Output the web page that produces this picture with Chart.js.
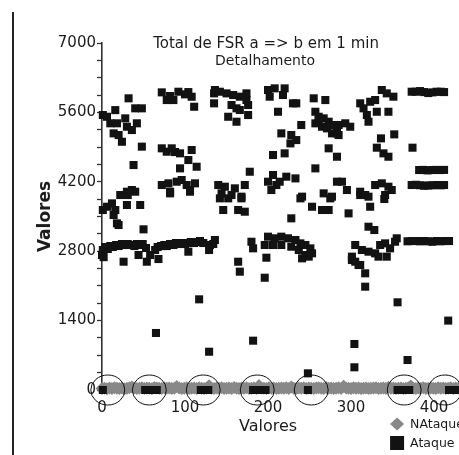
<!DOCTYPE html>
<html>
<head>
<meta charset="utf-8">
<title>Total de FSR a => b em 1 min</title>
<script src="https://cdn.jsdelivr.net/npm/chart.js@4"></script>
<style>
  html, body { margin: 0; padding: 0; background: #fff; }
  canvas { display: block; }
</style>
</head>
<body>
<canvas id="chart" width="459" height="455"></canvas>
<script>
// Chart text
const titleLines = ['Total de FSR a => b em 1 min', 'Detalhamento'];
const axisTitle = 'Valores';
const seriesNames = ['NAtaque', 'Ataque'];

// Axis ranges and ticks (the plot runs a little past the last labelled tick)
const xRange = [0, 430];
const yRange = [0, 7000];
const xTickValues = [0, 100, 200, 300, 400];
const yTickValues = [0, 1400, 2800, 4200, 5600, 7000];
const yMinorStep = 350;

// NAtaque: one reading every 3 samples, starting at sample 0
const nAtaqueStep = 3;
const nAtaqueValues = [
  30, 35, 25, 40, 30, 45, 35, 30, 40, 25, 35, 45,
  60, 40, 30, 35, 45, 30, 40, 35, 25, 50, 40, 35,
  30, 45, 35, 40, 30, 35, 70, 40, 30, 35, 45, 30,
  35, 40, 30, 45, 35, 30, 40, 85, 35, 30, 40, 35,
  45, 30, 35, 40, 30, 50, 35, 30, 40, 35, 45, 30,
  35, 40, 30, 90, 40, 35, 30, 45, 35, 40, 30, 35,
  40, 35, 45, 30, 60, 35, 30, 40, 35, 45, 30, 40,
  35, 30, 40, 45, 35, 30, 50, 35, 40, 30, 35, 45,
  30, 75, 40, 35, 30, 45, 35, 40, 30, 35, 40, 30,
  35, 40, 45, 30, 35, 40, 30, 55, 35, 40, 30, 35,
  40, 30, 35, 45, 80, 35, 30, 40, 35, 45, 30, 35,
  40, 35, 30, 45, 35, 40, 30, 35, 45, 30, 40, 35
];

// Ataque: [sample, value]
const ataquePoints = [
  [0,2723],[1,2824],[1,3631],[1,5547],[1,0],[2,2680],[4,2884],[6,5512],[6,3697],[7,2844],
  [10,2904],[10,5380],[12,3765],[13,2884],[14,5177],[14,3530],[16,5646],[16,3631],[17,2925],[18,5380],
  [18,3362],[20,2904],[20,5143],[20,3328],[22,3933],[24,5008],[24,2945],[26,2588],[28,5480],[28,2925],
  [30,5311],[30,4000],[30,3732],[31,3933],[31,2945],[32,5884],[35,2925],[36,5244],[36,4034],[38,4538],
  [39,2904],[40,5682],[40,4000],[42,5380],[42,2945],[44,2723],[46,3732],[46,2925],[48,5682],[48,4909],
  [49,2945],[50,3241],[52,0],[53,2864],[54,2588],[57,0],
  [58,2723],[62,0],[64,2824],[65,1150],[66,0],[67,2884],[68,2642],[71,2904],[72,6004],[72,4875],
  [72,4135],[75,2925],[78,5849],[78,4807],[78,2904],[80,4169],[82,5930],[82,4000],[82,3967],[82,2945],
  [84,4875],[86,5849],[86,2925],[88,4800],[89,2965],[90,4202],[92,6017],[93,2945],[94,4774],[94,4471],
  [96,4236],[96,2965],[100,5964],[100,2945],[102,4135],[104,6010],[104,4639],[104,2965],[104,2790],[106,4034],
  [106,4000],[107,2985],[108,5916],[108,4841],[111,5714],[111,2965],[112,4169],[114,4504],[114,2985],[117,1829],
  [118,3005],[119,0],[122,2965],[124,0],[128,0],[129,2824],[129,772],[130,2925],[134,2945],[135,5984],
  [135,5783],[136,3026],[136,6051],
  [140,4135],[142,6017],[142,3866],[144,3967],[146,3631],[148,4101],[150,5984],[152,5512],[152,3866],[156,5749],
  [156,3933],[158,5950],[160,4068],[162,5682],[162,5412],[164,3631],[164,2588],[166,5917],[166,5648],[166,2387],
  [168,3900],[168,3866],[172,4135],[172,3597],[174,5984],[174,5850],[176,5749],[176,5547],[178,4403],[180,2991],
  [182,2858],[182,995],[182,0],[187,0],[192,0],[196,2925],[196,2265],[197,0],[198,2669],[200,6051],
  [200,4202],[200,3093],[202,5917],[204,4034],[206,4740],[206,4337],[206,2925],[208,6085],[208,3060],[210,4135],
  [212,5613],[214,4202],[216,5177],[216,3093],[216,2925],[218,5951],[220,6085],[220,4774],[222,4303],[224,3060],
  [227,4975],[228,5143],[228,3463],[228,2891],[230,5783],[233,4269],[233,3026],[234,5783],[234,5042],[237,2824],
  [239,2958],[239,3866],[240,5345],[241,3900],[241,2656],[245,2925],[245,2723],[248,336],[248,0],[249,2690],
  [251,2857],[253,2757],[253,3697],[255,5884],[257,5613],[257,5379],[257,4471],[261,5512],[261,5446],[265,5311],
  [265,3631],[267,5480],[267,3967],[269,5849],[271,5278],[273,5412],[273,4875],[273,3631],[275,3866],[277,5177],
  [277,3900],[279,5345],[283,5244],[283,4706],[283,4202],[283,5177],[285,5143],[285,5345],[289,4202],[293,5380],
  [295,4034],[297,3563],[299,5311],
  [301,2622],[301,2690],[304,928],[304,458],[305,2925],[305,2588],[309,2521],[311,5783],[311,4000],[311,3933],
  [311,2522],[313,2824],[315,5682],[317,3933],[317,2354],[317,2084],[319,5547],[321,5412],[321,3900],[321,3294],
  [321,2790],[323,5815],[323,3697],[328,3227],[329,5849],[329,4135],[329,2757],[331,5613],[331,4888],[333,2690],
  [335,2925],[336,5076],[337,6051],[337,4169],[339,4774],[340,3853],[341,3933],[341,2958],[343,5984],[343,2690],
  [345,5613],[345,4706],[345,4101],[347,2858],[349,4034],[351,5917],[352,5157],[353,2991],[355,3060],[356,1769],
  [356,0],[361,0],[366,0],[368,605],[368,3000],[370,0],[373,6017],[373,4135],[373,3005],[374,4888],
  [378,6017],[378,4140],[378,3005],[382,4437],[383,6030],[383,4130],[383,3000],[387,4440],[388,6010],[388,4120],
  [388,3005],[392,4430],[393,5990],[393,4125],[393,3000],[397,4437],[398,6004],[398,4130],[398,2990],[402,4440],
  [403,6017],[403,4135],[403,3005],[407,4437],[408,6017],[408,4130],[408,3000],[412,6010],[412,4440],[412,4135],
  [413,3005],[417,1400],[418,3005],[418,0],[423,0],[428,0]
];

// Samples whose zero readings are ringed
const highlightedX = [7, 57, 122, 187, 252, 364, 413];

const FONT = 'DejaVu Sans';
const INK = '#1c1c1c';
const GREY = '#888888';

// Centre of the labelled part of the x axis
const labelledCentre = chart =>
  chart.scales.x.getPixelForValue((xTickValues[0] + xTickValues[xTickValues.length - 1]) / 2);

// Left frame rule
const frameRule = {
  id: 'frameRule',
  beforeDraw(chart) {
    const ctx = chart.ctx;
    ctx.save();
    ctx.strokeStyle = '#222';
    ctx.lineWidth = 2;
    ctx.beginPath();
    ctx.moveTo(13, 12);
    ctx.lineTo(13, chart.height);
    ctx.stroke();
    ctx.restore();
  }
};

// Two-line heading inside the top of the plot, and the x axis title
const texts = {
  id: 'texts',
  afterDraw(chart) {
    const { ctx, chartArea } = chart;
    const cx = labelledCentre(chart);
    ctx.save();
    ctx.fillStyle = INK;
    ctx.textAlign = 'center';
    ctx.textBaseline = 'middle';
    ctx.font = '15px "' + FONT + '"';
    ctx.fillText(titleLines[0], cx - 2, chartArea.top + 1);
    ctx.font = '14px "' + FONT + '"';
    ctx.fillText(titleLines[1], cx - 3, chartArea.top + 18);
    ctx.font = '16px "' + FONT + '"';
    ctx.fillText(axisTitle, cx, chartArea.bottom + 37);
    ctx.restore();
  }
};

// Ellipses around the zero readings
const zeroRings = {
  id: 'zeroRings',
  afterDatasetsDraw(chart) {
    const { ctx, scales } = chart;
    const y0 = scales.y.getPixelForValue(0);
    ctx.save();
    ctx.strokeStyle = '#111';
    ctx.lineWidth = 1;
    highlightedX.forEach(v => {
      ctx.beginPath();
      ctx.ellipse(scales.x.getPixelForValue(v), y0, 17, 15, 0, 0, Math.PI * 2);
      ctx.stroke();
    });
    ctx.restore();
  }
};

// Stacked key at the bottom right
const cornerKey = {
  id: 'cornerKey',
  afterDraw(chart) {
    const { ctx, chartArea } = chart;
    const mx = chart.scales.x.getPixelForValue(xTickValues[xTickValues.length - 1]) - 37;
    const rows = [chart.data.datasets[1], chart.data.datasets[0]];
    ctx.save();
    ctx.font = '12.5px "' + FONT + '"';
    ctx.textBaseline = 'middle';
    ctx.textAlign = 'left';
    rows.forEach((ds, i) => {
      const my = chartArea.bottom + 34 + i * 19;
      ctx.fillStyle = ds.backgroundColor;
      ctx.beginPath();
      if (ds.pointStyle === 'rectRot') {
        ctx.moveTo(mx - 7, my);
        ctx.lineTo(mx, my - 6.5);
        ctx.lineTo(mx + 7, my);
        ctx.lineTo(mx, my + 6.5);
        ctx.closePath();
      } else {
        ctx.rect(mx - 7, my - 7, 14, 14);
      }
      ctx.fill();
      ctx.fillStyle = INK;
      ctx.fillText(ds.label, mx + 13, my + 0.5);
    });
    ctx.restore();
  }
};

new Chart(document.getElementById('chart'), {
  type: 'scatter',
  data: {
    datasets: [
      {
        label: seriesNames[1],
        data: ataquePoints.map(([x, y]) => ({ x, y })),
        pointStyle: 'rect',
        pointRadius: 5.7,
        backgroundColor: '#121212',
        borderWidth: 0,
        clip: false,
        order: 0
      },
      {
        label: seriesNames[0],
        data: nAtaqueValues.map((y, i) => ({ x: i * nAtaqueStep, y })),
        pointStyle: 'rectRot',
        pointRadius: 6.5,
        backgroundColor: GREY,
        borderWidth: 0,
        clip: false,
        order: 1
      }
    ]
  },
  options: {
    responsive: false,
    animation: false,
    events: [],
    // no automatic room for marker overflow: the plot runs to the canvas edge
    layout: { autoPadding: false, padding: { left: 0, right: 0, top: 43, bottom: 0 } },
    plugins: {
      legend: { display: false },
      tooltip: { enabled: false },
      title: { display: false }
    },
    scales: {
      x: {
        type: 'linear',
        min: xRange[0],
        max: xRange[1],
        afterBuildTicks: s => { s.ticks = xTickValues.map(value => ({ value })); },
        grid: { display: false, drawTicks: false },
        border: { display: false },
        ticks: {
          font: { family: FONT, size: 15 },
          color: INK,
          padding: 9,
          maxRotation: 0,
          autoSkip: false
        },
        title: { display: false },
        afterFit: s => {
          s.height = 65;
          s.paddingLeft = 0;
          s.paddingRight = 0;
        }
      },
      y: {
        type: 'linear',
        min: yRange[0],
        max: yRange[1],
        afterBuildTicks: s => {
          const t = [];
          for (let v = yRange[0]; v <= yRange[1]; v += yMinorStep) t.push({ value: v });
          s.ticks = t;
        },
        grid: {
          display: true,
          drawOnChartArea: false,
          drawTicks: true,
          tickLength: 5,
          color: '#333',
          tickColor: '#333',
          tickWidth: 1.3
        },
        border: { display: true, color: '#333', width: 1.6 },
        ticks: {
          callback: v => (yTickValues.includes(v) ? String(v) : ''),
          font: { family: FONT, size: 15 },
          color: INK,
          padding: 1,
          autoSkip: false
        },
        title: {
          display: true,
          text: axisTitle,
          font: { family: FONT, size: 17, weight: 'bold' },
          color: INK,
          padding: { top: 35, bottom: 0 }
        },
        afterFit: s => { s.width = 102; }
      }
    }
  },
  plugins: [frameRule, texts, zeroRings, cornerKey]
});
</script>
</body>
</html>
